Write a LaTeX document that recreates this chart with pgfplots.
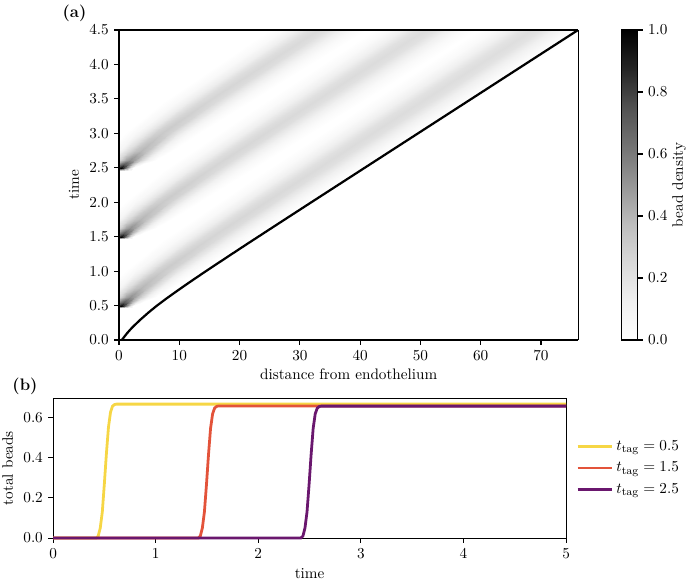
\documentclass[11pt,border=0pt]{standalone}
\usepackage{pgfplots}
\pgfplotsset{compat=1.18}
\usepackage{pgfplotstable}

\definecolor{cyel}{HTML}{F6D645}
\definecolor{cred}{HTML}{E3533A}
\definecolor{cpur}{HTML}{6A176E}

% one diagonal band: x, time since tagging (tau), bead density v
\pgfplotstableread{
x tau v
-2.08 -0.04 0
-1.44 -0.04 0
-0.88 -0.04 0
-0.4 -0.04 0
0 -0.04 0
0.4 -0.04 0
0.88 -0.04 0
1.44 -0.04 0
2.08 -0.04 0
-1.78 0 0
-1.14 0 0.198
-0.58 0 0.546
-0.1 0 0.882
0.3 0 1.0
0.7 0 0.882
1.18 0 0.546
1.74 0 0.198
2.38 0 0
-2.22 0.05 0
-1.26 0.05 0.143
-0.42 0.05 0.393
0.3 0.05 0.635
0.9 0.05 0.72
1.5 0.05 0.635
2.22 0.05 0.393
3.06 0.05 0.143
4.02 0.05 0
-2.26 0.12 0
-0.98 0.12 0.103
0.14 0.12 0.284
1.1 0.12 0.459
1.9 0.12 0.52
2.7 0.12 0.459
3.66 0.12 0.284
4.78 0.12 0.103
6.06 0.12 0
-1.6 0.25 0
0 0.25 0.079
1.4 0.25 0.218
2.6 0.25 0.353
3.6 0.25 0.4
4.6 0.25 0.353
5.8 0.25 0.218
7.2 0.25 0.079
8.8 0.25 0
0.96 0.5 0
2.88 0.5 0.063
4.56 0.5 0.175
6.0 0.5 0.282
7.2 0.5 0.32
8.4 0.5 0.282
9.84 0.5 0.175
11.52 0.5 0.063
13.44 0.5 0
8.02 1 0
10.26 1 0.053
12.22 1 0.147
13.9 1 0.238
15.3 1 0.27
16.7 1 0.238
18.38 1 0.147
20.34 1 0.053
22.58 1 0
24.94 2 0
27.42 2 0.048
29.59 2 0.131
31.45 2 0.212
33.0 2 0.24
34.55 2 0.212
36.41 2 0.131
38.58 2 0.048
41.06 2 0
42.22 3 0
44.86 3 0.046
47.17 3 0.126
49.15 3 0.203
50.8 3 0.23
52.45 3 0.203
54.43 3 0.126
56.74 3 0.046
59.38 3 0
59.66 4 0
62.38 4 0.044
64.76 4 0.120
66.8 4 0.194
68.5 4 0.22
70.2 4 0.194
72.24 4 0.120
74.62 4 0.044
77.34 4 0
}\bandtable

\pgfplotsset{
  colormap={greys}{rgb255(0cm)=(255,255,255); rgb255(1cm)=(240,240,240); rgb255(2cm)=(217,217,217); rgb255(3cm)=(189,189,189); rgb255(4cm)=(150,150,150); rgb255(5cm)=(115,115,115); rgb255(6cm)=(82,82,82); rgb255(7cm)=(37,37,37); rgb255(8cm)=(0,0,0)},
}

\begin{document}
\begin{tikzpicture}
\useasboundingbox (0pt,0pt) rectangle (496.8pt,-421.2pt);

\node[font=\large\bfseries] at (53.6pt,-9.5pt) {(a)};
\node[font=\large\bfseries] at (18pt,-278pt) {(b)};

\begin{axis}[
  at={(85.7pt,-244.8pt)}, anchor=south west,
  scale only axis, width=330.7pt, height=223.2pt,
  view={0}{90},
  xmin=0, xmax=76.2, ymin=0, ymax=4.5, zmin=-1, zmax=1,
  xtick={0,10,...,70},
  ytick={0,0.5,1,1.5,2,2.5,3,3.5,4,4.5},
  yticklabel style={/pgf/number format/.cd, fixed, fixed zerofill, precision=1},
  xlabel={distance from endothelium},
  ylabel={time},
  xlabel near ticks, ylabel near ticks,
  xlabel style={yshift=1.5pt},
  tick align=outside, tick pos=left,
  major tick length=3.5pt,
  axis line style={line width=0.8pt},
  every tick/.style={line width=0.8pt, black},
  axis on top,
  colormap name=greys,
  point meta min=0, point meta max=1,
  colorbar,
  colorbar style={
    at={(parent axis.north east)}, anchor=north west, xshift=22.8pt,
    width=11.5pt,
    ytick={0,0.2,...,1},
    yticklabel style={/pgf/number format/.cd, fixed, fixed zerofill, precision=1},
    yticklabel pos=right,
    ytick pos=right,
    ylabel={bead density},
    ylabel near ticks,
    ylabel shift=-4pt,
    tick align=outside,
    major tick length=3.5pt,
    axis line style={line width=0.8pt},
  },
]
\addplot3[surf, shader=interp, mesh/rows=10, mesh/cols=9, point meta=explicit]
  table[x=x, y expr=\thisrow{tau}+0.5, z expr=0, meta=v] {\bandtable};
\addplot3[surf, shader=interp, mesh/rows=10, mesh/cols=9, point meta=explicit]
  table[x=x, y expr=\thisrow{tau}+1.5, z expr=0, meta=v] {\bandtable};
\addplot3[surf, shader=interp, mesh/rows=10, mesh/cols=9, point meta=explicit]
  table[x=x, y expr=\thisrow{tau}+2.5, z expr=0, meta=v] {\bandtable};
\addplot3[black, line width=1.6pt, no marks] coordinates {
  (0.45,0,0) (0.9,0.05,0) (1.35,0.1,0) (1.85,0.15,0) (2.4,0.2,0) (3.6,0.3,0)
  (4.9,0.4,0) (6.3,0.5,0) (7.83,0.6,0) (9.43,0.7,0) (11.06,0.8,0) (12.73,0.9,0)
  (14.43,1.0,0) (17.87,1.2,0) (21.35,1.4,0) (26.62,1.7,0) (31.91,2.0,0)
  (49.6,3.0,0) (67.3,4.0,0) (76.15,4.5,0)
};
\end{axis}

\begin{axis}[
  at={(38.2pt,-387.4pt)}, anchor=south west,
  scale only axis, width=369.4pt, height=100.8pt,
  xmin=0, xmax=5, ymin=0, ymax=0.695,
  xtick={0,1,2,3,4,5},
  ytick={0,0.2,0.4,0.6},
  yticklabel style={/pgf/number format/.cd, fixed, fixed zerofill, precision=1},
  xlabel={time}, ylabel={total beads},
  tick align=outside, tick pos=left,
  major tick length=3.5pt,
  axis line style={line width=0.8pt},
  every tick/.style={line width=0.8pt, black},
  clip=false,
  legend style={at={(1,0.5)}, anchor=west, xshift=4pt, draw=none, fill=none, row sep=3pt},
  legend cell align=left,
  legend image code/.code={\draw[#1] (0pt,0pt) -- (25pt,0pt);},
]
\addplot[cyel, line width=2pt] coordinates {
  (0,0) (0.42,0) (0.44,0.01) (0.46,0.05) (0.48,0.13) (0.50,0.27) (0.52,0.42)
  (0.54,0.55) (0.56,0.625) (0.58,0.655) (0.60,0.663) (0.62,0.665) (5,0.665)
};
\addlegendentry{$t_{\mathrm{tag}} = 0.5$}
\addplot[cred, line width=2pt] coordinates {
  (0,0) (1.415,0) (1.435,0.01) (1.455,0.05) (1.475,0.13) (1.495,0.265) (1.515,0.415)
  (1.535,0.545) (1.555,0.617) (1.575,0.646) (1.595,0.654) (1.615,0.656) (5,0.656)
};
\addlegendentry{$t_{\mathrm{tag}} = 1.5$}
\addplot[cpur, line width=2pt] coordinates {
  (0,0) (2.415,0) (2.435,0.01) (2.455,0.05) (2.475,0.13) (2.495,0.265) (2.515,0.415)
  (2.535,0.545) (2.555,0.617) (2.575,0.645) (2.595,0.653) (2.615,0.655) (5,0.655)
};
\addlegendentry{$t_{\mathrm{tag}} = 2.5$}
\end{axis}
\end{tikzpicture}
\end{document}
